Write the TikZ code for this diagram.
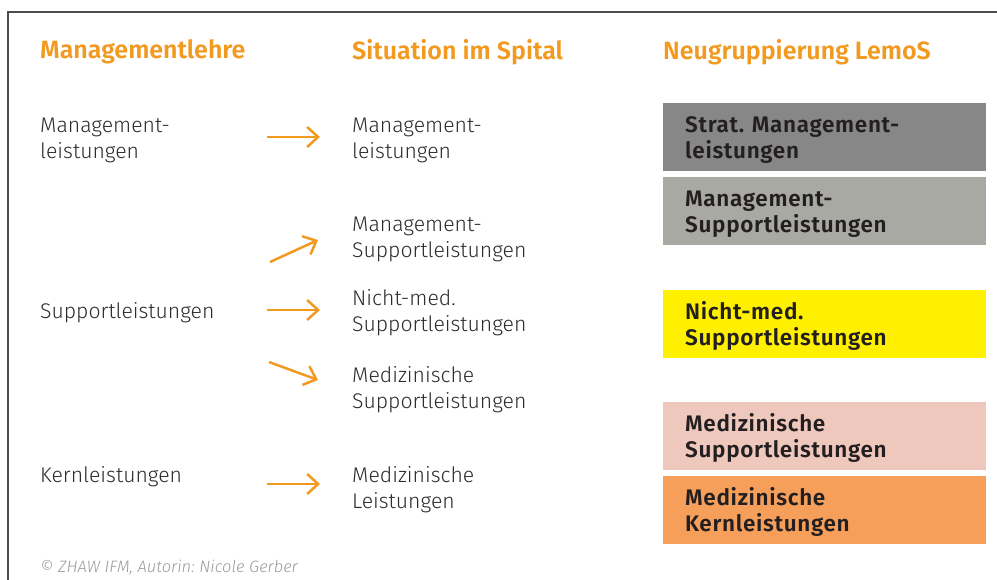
\documentclass[tikz,border=0pt]{standalone}
\usepackage{fontspec}
\setmainfont{Fira Sans}[UprightFont=* Light, BoldFont=* SemiBold, ItalicFont=* Light Italic]
\newfontfamily\grpfont{Fira Sans}[UprightFont=* SemiBold, LetterSpace=3]
\usepackage{tikz}
\usetikzlibrary{arrows.meta}
\definecolor{zhaworange}{HTML}{F29A1F}
\definecolor{txtgray}{HTML}{2B2B2B}
\definecolor{boxtext}{HTML}{231F20}
\definecolor{fnote}{HTML}{9A9A9A}
\definecolor{strat}{HTML}{878787}
\definecolor{msupp}{HTML}{A9A9A3}
\definecolor{nmsupp}{HTML}{FFF000}
\definecolor{medsupp}{HTML}{EFC8BD}
\definecolor{medkern}{HTML}{F69F5B}
\frenchspacing

\begin{document}
\begin{tikzpicture}[x=1pt,y=-1pt,
		head/.style={anchor=west, inner sep=0pt, text=zhaworange,
			font=\fontsize{25}{28}\selectfont\bfseries},
		txt/.style={anchor=west, inner sep=0pt, align=left, text=txtgray,
			font=\fontsize{21.2}{26}\selectfont},
		grp/.style={anchor=north west, minimum width=323pt, minimum height=68pt,
			inner xsep=22pt, inner ysep=0pt, text width=279pt, align=left,
			text=boxtext, font=\fontsize{22.5}{26}\selectfont\grpfont,
			execute at begin node={\rule{0pt}{22pt}}},
		pfeil/.style={draw=zhaworange, line width=2.5pt,
			-{Straight Barb[length=11pt,width=20pt,line width=2.5pt]}}]
	\useasboundingbox (0,0) rectangle (997,580);
	\draw[line width=1.4pt, draw=black!70] (8,580) -- (8,12) -- (997,12);

	% Spaltenkoepfe
	\node[head] (mlehre) at (40,52) {Managementlehre};
	\node[head] (spital) at (352,52) {Situation im Spital};
	\node[head] (lemos) at (663,52) {Neugruppierung LemoS};

	% Managementlehre
	\node[txt] (ml1) at (40,140) {Management-\\leistungen};
	\node[txt] (sl1) at (40,313) {Supportleistungen};
	\node[txt] (kl1) at (40,477) {Kernleistungen};

	% Situation im Spital
	\node[txt] (ml2) at (352,140) {Management-\\leistungen};
	\node[txt] (msl2) at (352,239) {Management-\\Supportleistungen};
	\node[txt] (nsl2) at (352,313) {Nicht-med.\\Supportleistungen};
	\node[txt] (mdsl2) at (352,390) {Medizinische\\Supportleistungen};
	\node[txt] (mdl2) at (352,490) {Medizinische\\Leistungen};

	% Neugruppierung
	\node[grp, fill=strat] (g1) at (663,103) {Strat. Management-\\leistungen};
	\node[grp, fill=msupp] (g2) at (663,177) {Management-\\Supportleistungen};
	\node[grp, fill=nmsupp] (g3) at (663,290) {Nicht-med.\\Supportleistungen};
	\node[grp, fill=medsupp] (g4) at (663,402) {Medizinische\\Supportleistungen};
	\node[grp, fill=medkern] (g5) at (663,476) {Medizinische\\Kernleistungen};

	% Pfeile
	\coordinate (a1) at (267,137);  \coordinate (b1) at (320,137);
	\coordinate (a2) at (270,262);  \coordinate (b2) at (318,240);
	\coordinate (a3) at (267,310);  \coordinate (b3) at (320,310);
	\coordinate (a4) at (269,362);  \coordinate (b4) at (318,380);
	\coordinate (a5) at (267,484);  \coordinate (b5) at (320,484);
	\foreach \i in {1,...,5}
		\draw[pfeil] (a\i) -- (b\i);

	\node[anchor=west, inner sep=0pt, text=fnote, font=\fontsize{16.5}{18}\selectfont\itshape]
		(quelle) at (40,568) {© ZHAW IFM, Autorin: Nicole Gerber};
\end{tikzpicture}
\end{document}
